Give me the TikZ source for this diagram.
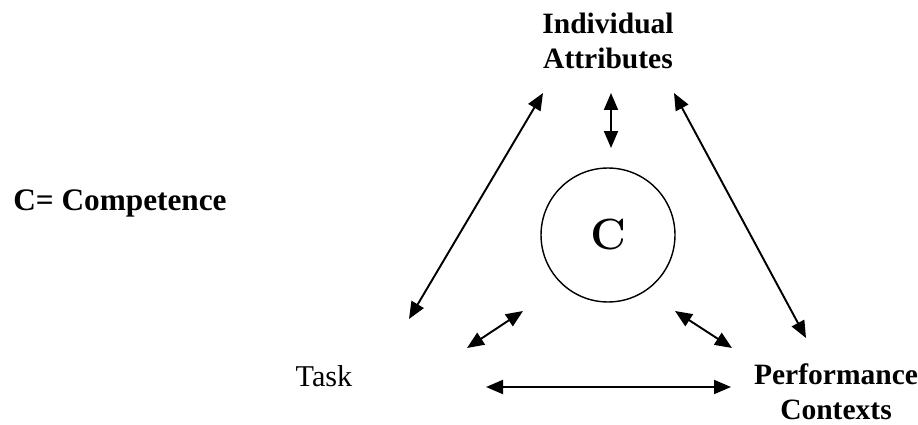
\documentclass[tikz,border=0pt]{standalone}
\usepackage[no-math]{fontspec}
\setmainfont{Liberation Serif}
\usetikzlibrary{arrows.meta, positioning}

\begin{document}
\begin{tikzpicture}[
    x=0.02cm, y=-0.02cm, % one unit per pixel of the layout
    >={Triangle[length=0.34cm, width=0.28cm]},
    % Style definitions
    link/.style={<->, line width=1.1pt},
    heading text/.style={font=\fontsize{16.8}{20}\selectfont\bfseries, align=center, inner sep=0pt},
    plain text/.style={font=\fontsize{17.2}{20}\selectfont, inner sep=0pt},
    core/.style={draw, circle, line width=0.8pt, minimum size=2.68cm, inner sep=0pt, font=\fontsize{27}{32}\selectfont}
]

% page frame
\useasboundingbox (0,0) rectangle (918,425);

% ==========================================
% 1. LABELS
% ==========================================

\node[heading text] (attr) at (608, 41) {Individual\\Attributes};
\node[heading text] (ctx) at (836, 392) {Performance\\Contexts};
\node[plain text] (task) at (324, 376) {Task};
\node[heading text, font=\fontsize{17.8}{21}\selectfont\bfseries] (legend) at (120, 203) {C= Competence};

% Competence circle
\node[core] (comp) at (608, 235) {$\mathbf{C}$};

% ==========================================
% 2. ARROW END POINTS
% ==========================================

% long sides of the triangle
\coordinate (tl top) at (543, 93);
\coordinate (tl bot) at (409, 319);
\coordinate (tr top) at (674, 93);
\coordinate (tr bot) at (806, 338);
% bottom side
\coordinate (b left) at (486, 387);
\coordinate (b right) at (731, 387);
% short arrows round the circle
\coordinate (m top) at (611, 93);
\coordinate (m bot) at (611, 148);
\coordinate (l low) at (467, 348);
\coordinate (l high) at (523, 311);
\coordinate (r high) at (675, 311);
\coordinate (r low) at (732, 348);

% ==========================================
% 3. ARROWS
% ==========================================

\draw[link] (tl top) -- (tl bot);
\draw[link] (tr top) -- (tr bot);
\draw[link] (b left) -- (b right);

\draw[link] (m top) -- (m bot);
\draw[link] (l low) -- (l high);
\draw[link] (r high) -- (r low);

\end{tikzpicture}
\end{document}
